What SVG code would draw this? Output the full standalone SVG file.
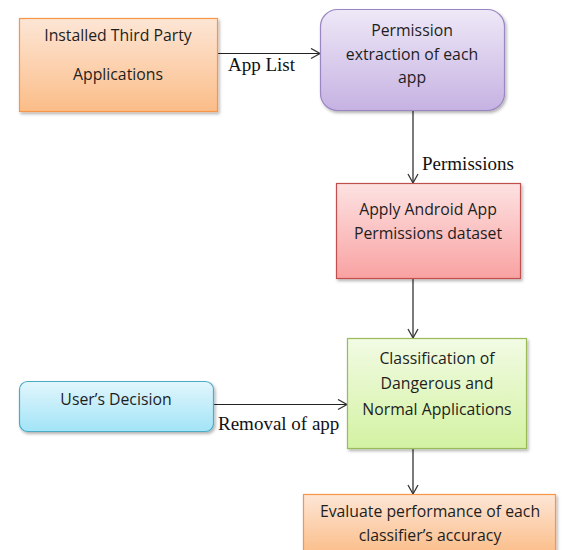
<svg xmlns="http://www.w3.org/2000/svg" width="563" height="550" viewBox="0 0 563 550">
  <defs>
    <linearGradient id="gOrange" x1="0" y1="0" x2="0" y2="1">
      <stop offset="0" stop-color="#fde6d6"/>
      <stop offset="1" stop-color="#fbbd88"/>
    </linearGradient>
    <linearGradient id="gPurple" x1="0" y1="0" x2="0" y2="1">
      <stop offset="0" stop-color="#eee8f7"/>
      <stop offset="1" stop-color="#c6b2e2"/>
    </linearGradient>
    <linearGradient id="gPink" x1="0" y1="0" x2="0" y2="1">
      <stop offset="0" stop-color="#fde2e2"/>
      <stop offset="1" stop-color="#f9a2a2"/>
    </linearGradient>
    <linearGradient id="gGreen" x1="0" y1="0" x2="0" y2="1">
      <stop offset="0" stop-color="#f2fbe4"/>
      <stop offset="1" stop-color="#d3f2a2"/>
    </linearGradient>
    <linearGradient id="gBlue" x1="0" y1="0" x2="0" y2="1">
      <stop offset="0" stop-color="#e2f6fc"/>
      <stop offset="1" stop-color="#a2e4f7"/>
    </linearGradient>
    <filter id="shadow" x="-10%" y="-10%" width="130%" height="130%">
      <feDropShadow dx="1.5" dy="2" stdDeviation="1.5" flood-color="#000" flood-opacity="0.3"/>
    </filter>
    <marker id="arrow" markerWidth="12" markerHeight="12" refX="10" refY="6" orient="auto" markerUnits="userSpaceOnUse">
      <polyline points="1,1 10,6 1,11" fill="none" stroke="#333" stroke-width="1.3"/>
    </marker>
  </defs>
  <style>
    .box { filter: url(#shadow); stroke-width: 1.2; }
    .t { font-family: "Open Sans", "Liberation Sans", sans-serif; font-size: 15.8px; fill: #1e1e1e; text-anchor: middle; }
    .lbl { font-family: "Liberation Serif", "Times New Roman", serif; font-size: 19px; fill: #111; }
    .conn { stroke: #222; stroke-width: 1.2; fill: none; marker-end: url(#arrow); }
  </style>
  <rect width="563" height="550" fill="#fff"/>

  <g id="connectors">
    <line class="conn" x1="218" y1="53.5" x2="320" y2="53.5"/>
    <line class="conn" x1="413" y1="111" x2="413" y2="183"/>
    <line class="conn" x1="413" y1="279" x2="413" y2="338"/>
    <line class="conn" x1="214" y1="404.5" x2="347" y2="404.5"/>
    <line class="conn" x1="413" y1="449" x2="413" y2="494"/>
    <text class="lbl" x="228" y="71">App List</text>
    <text class="lbl" x="422" y="170">Permissions</text>
    <text class="lbl" x="218" y="430">Removal of app</text>
  </g>

  <g id="installed-apps">
    <rect class="box" x="19.5" y="18.5" width="198" height="93" fill="url(#gOrange)" stroke="#f79646"/>
    <text class="t" x="118" y="41">Installed Third Party</text>
    <text class="t" x="118" y="80">Applications</text>
  </g>

  <g id="permission-extraction">
    <rect class="box" x="320.5" y="9.5" width="184" height="101" rx="17" fill="url(#gPurple)" stroke="#9a86c2"/>
    <text class="t" x="412" y="36">Permission</text>
    <text class="t" x="412" y="60">extraction of each</text>
    <text class="t" x="412" y="83">app</text>
  </g>

  <g id="apply-dataset">
    <rect class="box" x="336.5" y="183.5" width="184" height="95" fill="url(#gPink)" stroke="#c0504d"/>
    <text class="t" x="428" y="215">Apply Android App</text>
    <text class="t" x="428" y="239">Permissions dataset</text>
  </g>

  <g id="classification">
    <rect class="box" x="347.5" y="338.5" width="179" height="110" fill="url(#gGreen)" stroke="#9bbb59"/>
    <text class="t" x="437" y="364">Classification of</text>
    <text class="t" x="437" y="389">Dangerous and</text>
    <text class="t" x="437" y="415">Normal Applications</text>
  </g>

  <g id="user-decision">
    <rect class="box" x="19.5" y="381.5" width="194" height="50" rx="8" fill="url(#gBlue)" stroke="#4bacc6"/>
    <text class="t" x="116" y="405">User’s Decision</text>
  </g>

  <g id="evaluate">
    <rect class="box" x="303.5" y="494.5" width="252" height="60" fill="url(#gOrange)" stroke="#f79646"/>
    <text class="t" x="430" y="517">Evaluate performance of each</text>
    <text class="t" x="430" y="541">classifier’s accuracy</text>
  </g>
</svg>
